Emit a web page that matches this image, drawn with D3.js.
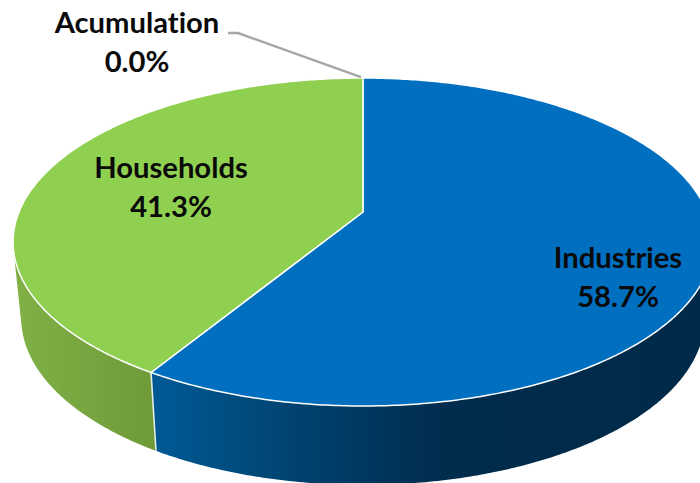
<!DOCTYPE html>
<html>
<head>
<meta charset="utf-8">
<script src="https://cdn.jsdelivr.net/npm/d3@7"></script>
<style>
html,body{margin:0;padding:0;background:#fff}
svg{display:block}
text{font-family:Lato,"Open Sans",sans-serif;font-weight:700;font-size:29.2px;fill:#0a0a0a;text-anchor:middle;font-variant-ligatures:none}
</style>
</head>
<body>
<svg id="chart" width="700" height="483"></svg>
<script>
const categories = ["Industries", "Households", "Acumulation"];
const shares = [58.7, 41.3, 0.0];
const topColors = ["#006fc0", "#90d050", "#a6a6a6"];
const sideStops = [
  [["0", "#005a96"], ["0.3", "#00426f"], ["0.6", "#002c4d"], ["1", "#002a49"]],
  [["0", "#80b046"], ["1", "#6e9a38"]]
];
const labelLines = [["Industries", "58.7%"], ["Households", "41.3%"], ["Acumulation", "0.0%"]];

const W = 700, H = 483;
const svg = d3.select("#chart").attr("viewBox", [0, 0, W, H]);

// Perspective disc: u,v on the unit circle are projected with a common foreshortening k
const k = -0.183;
const topFace = {cx: 363, cy: 212, a: 344, b: 119.7};
const baseFace = {cx: 363, cy: 287.4, a: 336, b: 108.8};
const proj = (f, angle, r = 1) => {
  const u = r * Math.sin(angle), v = -r * Math.cos(angle), w = 1 + k * v;
  return [f.cx + f.a * u / w, (f.cy + f.b * v) / w];
};
const samples = (a0, a1) => {
  const n = Math.max(2, Math.ceil(Math.abs(a1 - a0) / 0.01));
  return d3.range(n + 1).map(i => a0 + (a1 - a0) * i / n);
};

const pie = d3.pie().sort(null).value(d => d)(shares);
const line = d3.line();

const defs = svg.append("defs");
sideStops.forEach((stops, i) => {
  const xr = i === 0 ? [150, 640] : [15, 156];
  const g = defs.append("linearGradient").attr("id", "side" + i)
    .attr("gradientUnits", "userSpaceOnUse")
    .attr("x1", xr[0]).attr("x2", xr[1]).attr("y1", 0).attr("y2", 0);
  stops.forEach(s => g.append("stop").attr("offset", s[0]).attr("stop-color", s[1]));
});

// side walls: convex hull of each slice's top and base rims; later slices cover earlier ones
[1, 0].forEach(i => {
  const p = pie[i];
  const as = samples(p.startAngle, p.endAngle);
  const hull = d3.polygonHull(as.map(a => proj(topFace, a)).concat(as.map(a => proj(baseFace, a))));
  svg.append("path").attr("d", line(hull) + "Z").attr("fill", `url(#side${i})`);
});
// seam between the walls
svg.append("path")
  .attr("d", line([proj(topFace, pie[0].endAngle), proj(baseFace, pie[0].endAngle)]))
  .attr("stroke", "#e8eee8").attr("stroke-width", 1.6).attr("fill", "none");

// top faces
pie.forEach((p, i) => {
  if (p.endAngle - p.startAngle <= 0) return;
  const pts = [[topFace.cx, topFace.cy]].concat(samples(p.startAngle, p.endAngle).map(a => proj(topFace, a)));
  svg.append("path").attr("d", line(pts) + "Z")
    .attr("fill", topColors[i])
    .attr("stroke", "#fff").attr("stroke-width", 1.5).attr("stroke-linejoin", "round");
});

// leader line for the zero slice
const tip = proj(topFace, pie[2].startAngle);
svg.append("path")
  .attr("d", line([[228, 33], [238, 33], [tip[0] - 2, tip[1] - 1]]))
  .attr("fill", "none").attr("stroke", "#a6a6a6").attr("stroke-width", 2.4);

// labels
const labelAnchor = [[618, 268], [171, 178], [137, 33]];
const leading = 38.5;
labelLines.forEach((ls, i) => {
  const t = svg.append("text").attr("x", labelAnchor[i][0]).attr("y", labelAnchor[i][1]);
  ls.forEach((s, j) => t.append("tspan").attr("x", labelAnchor[i][0]).attr("y", labelAnchor[i][1] + j * leading).text(s));
});
</script>
</body>
</html>
